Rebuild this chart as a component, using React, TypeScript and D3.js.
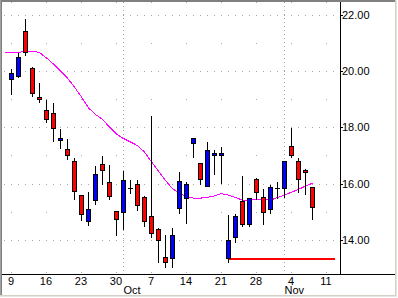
import React, { useEffect } from "react";
import * as d3 from "d3";

// Trading-day index 0 = Mon Sep 9
const opens = [19.71, 19.81, 21.42, 20.10, 19.08, 18.62, 18.50, 17.54, 17.23, 16.79,
  15.58, 14.65, 15.42, 16.68, 16.04, 15.03, 14.99, 15.85, 15.97, 15.53,
  14.84, 14.39, 13.37, 13.34, 15.14, 15.47, 17.45, 16.72, 15.90, 17.00,
  17.02, 13.36, 14.09, 15.38, 14.55, 16.16, 15.51, 15.10, 15.83, 15.83,
  17.33, 16.79, 16.48, 15.86];
const highs = [20.10, 20.69, 21.88, 20.18, 19.61, 19.01, 18.90, 17.98, 17.62, 16.95,
  15.58, 15.73, 16.66, 17.01, 16.69, 15.07, 16.47, 16.15, 16.15, 15.60,
  18.44, 14.46, 14.20, 14.44, 16.46, 16.09, 17.63, 16.72, 17.51, 17.23,
  17.35, 14.90, 14.94, 16.30, 15.50, 16.24, 15.83, 15.98, 16.09, 16.80,
  18.02, 16.95, 16.54, 15.86];
const lows = [19.19, 19.79, 20.56, 19.12, 18.89, 18.20, 17.52, 17.25, 16.86, 15.46,
  14.70, 14.52, 15.28, 15.97, 15.46, 14.16, 14.37, 15.65, 15.06, 14.50,
  14.09, 13.22, 13.04, 13.04, 14.96, 14.60, 16.93, 15.98, 15.90, 16.35,
  16.03, 13.20, 13.93, 14.50, 14.50, 15.44, 14.55, 14.94, 15.49, 15.53,
  16.95, 15.71, 15.62, 14.75];
const closes = [19.92, 20.49, 20.67, 19.21, 19.00, 18.28, 17.99, 17.62, 17.00, 15.74,
  14.90, 15.08, 16.33, 16.47, 15.54, 14.73, 16.11, 15.85, 15.22, 14.67,
  14.23, 13.98, 13.21, 14.17, 16.09, 15.97, 17.62, 16.15, 17.18, 17.07,
  17.10, 13.99, 14.84, 14.55, 15.47, 15.69, 15.00, 15.86, 15.83, 16.80,
  17.00, 16.17, 16.40, 15.17];

// Moving average, starting at index -1
const maStartIdx = -1;
const maValues = [20.67, 20.67, 20.67, 20.70, 20.71, 20.66, 20.47, 20.25, 20.00, 19.75,
  19.43, 19.08, 18.69, 18.46, 18.28, 18.01, 17.76, 17.60, 17.48, 17.35,
  17.12, 16.77, 16.44, 16.11, 15.82, 15.64, 15.54, 15.48, 15.48, 15.51,
  15.56, 15.64, 15.59, 15.50, 15.41, 15.41, 15.43, 15.43, 15.41, 15.50,
  15.59, 15.69, 15.79, 15.91, 16.01];

const dayLabels = ["9", "16", "23", "30", "7", "14", "21", "28", "4", "11"];
const dayLabelIdx = [0, 5, 10, 15, 20, 25, 30, 35, 40, 45];
const monthLabels = ["Oct", "Nov"];
const monthIdx = [16, 39];
const yMajor = [22, 20, 18, 16, 14];
const yMinor = [21, 19, 17, 15];
const yLabels = ["22.00", "20.00", "18.00", "16.00", "14.00"];
const supportValue = 13.3;
const supportFromIdx = 31;
const supportToIdx = 46.2;

const W = 398;
const H = 298;
const L = 2, R = 340, T = 2, B = 274;

export default function App() {
  useEffect(() => {
    document.body.style.margin = "0";
  }, []);

  const x = d3.scaleLinear().domain([-19 / 14, 46.93]).range([L, R]);
  const y = d3.scaleLinear().domain([12.78, 22.46]).range([B, T]);
  const px = (i: number) => Math.floor(x(i)) + 0.5;
  const py = (v: number) => Math.round(y(v)) + 0.5;

  const gridColor = "#a8a8a8";
  const allIdx = d3.range(-1, 47);

  const maLine = d3
    .line<number>()
    .x((_, i) => x(maStartIdx + i))
    .y((d) => y(d));

  return (
    <svg
      width={W}
      height={H}
      style={{ position: "absolute", left: 0, top: 0, display: "block", background: "#fff" }}
      fontFamily="'Liberation Sans', Arial, sans-serif"
      fontSize={11}
    >
      <rect x={0} y={0} width={W} height={H} fill="#fff" />
      {/* frame */}
      <g shapeRendering="crispEdges">
        <line x1={0} x2={395} y1={0.5} y2={0.5} stroke="#808080" />
        <line x1={0} x2={395} y1={1.5} y2={1.5} stroke="#808080" />
        <line x1={0.5} x2={0.5} y1={0} y2={296} stroke="#a0a0a0" />
        <line x1={1.5} x2={1.5} y1={0} y2={296} stroke="#808080" />
        <line x1={395.5} x2={395.5} y1={0} y2={296} stroke="#d4d0c8" />
        <line x1={396.5} x2={396.5} y1={0} y2={297} stroke="#e8e6e0" />
        <line x1={0} x2={396} y1={295.5} y2={295.5} stroke="#d4d0c8" />
        <line x1={0} x2={397} y1={296.5} y2={296.5} stroke="#e8e6e0" />
      </g>

      {/* grid */}
      <g shapeRendering="crispEdges">
        {yMajor.map((v) => (
          <g key={"M" + v}>
            {allIdx.map((i) => (
              <rect key={i} x={px(i) - 0.5} y={py(v) - 0.5} width={1} height={1} fill={gridColor} />
            ))}
          </g>
        ))}
        {yMinor.map((v) => (
          <g key={"m" + v}>
            {dayLabelIdx.map((i) => (
              <rect key={i} x={px(i) - 0.5} y={py(v) - 0.5} width={1} height={1} fill={gridColor} />
            ))}
          </g>
        ))}
        {monthIdx.map((i) => (
          <line key={"v" + i} x1={px(i)} x2={px(i)} y1={T} y2={B} stroke={gridColor} strokeDasharray="1 3" />
        ))}
        {dayLabelIdx.map((i) => (
          <g key={"t" + i}>
            <rect x={px(i) - 0.5} y={2} width={1} height={1} fill={gridColor} />
            <rect x={px(i) - 0.5} y={B - 2} width={1} height={1} fill={gridColor} />
          </g>
        ))}
      </g>

      {/* axes */}
      <g shapeRendering="crispEdges">
        <line x1={L} x2={395} y1={B + 0.5} y2={B + 0.5} stroke="#000" />
        <line x1={R + 0.5} x2={R + 0.5} y1={T} y2={B} stroke="#000" />
        {yMajor.map((v) => (
          <line key={"yt" + v} x1={R} x2={R + 3} y1={py(v)} y2={py(v)} stroke="#000" />
        ))}
      </g>

      {/* support line */}
      <line
        x1={x(supportFromIdx)}
        x2={x(supportToIdx)}
        y1={Math.round(y(supportValue))}
        y2={Math.round(y(supportValue))}
        stroke="#ff0000"
        strokeWidth={2}
        shapeRendering="crispEdges"
      />

      {/* moving average */}
      <path d={maLine(maValues) || ""} fill="none" stroke="#ff00ff" strokeWidth={1} shapeRendering="crispEdges" />

      {/* candles */}
      <g shapeRendering="crispEdges">
        {opens.map((o, i) => {
          const c = closes[i];
          const cx = px(i);
          const top = py(Math.max(o, c));
          const bot = py(Math.min(o, c));
          const color = c > o ? "#0000ff" : "#ff0000";
          return (
            <g key={i}>
              <line x1={cx} x2={cx} y1={py(highs[i])} y2={py(lows[i])} stroke="#000" />
              {bot - top < 1 ? (
                <line x1={cx - 2.5} x2={cx + 2.5} y1={top} y2={top} stroke="#000" />
              ) : (
                <rect x={cx - 2} y={top} width={4} height={bot - top} fill={color} stroke="#000" />
              )}
            </g>
          );
        })}
      </g>

      {/* labels */}
      {yMajor.map((v, k) => (
        <text key={"yl" + v} x={R + 2} y={y(v) + 4} fill="#000">
          {yLabels[k]}
        </text>
      ))}
      {dayLabels.map((t, k) => (
        <text key={"dl" + k} x={x(dayLabelIdx[k]) - 0.5} y={285} textAnchor="middle" fill="#000">
          {t}
        </text>
      ))}
      {monthLabels.map((t, k) => (
        <text key={"ml" + k} x={px(monthIdx[k])} y={294} fill="#000">
          {t}
        </text>
      ))}
    </svg>
  );
}
